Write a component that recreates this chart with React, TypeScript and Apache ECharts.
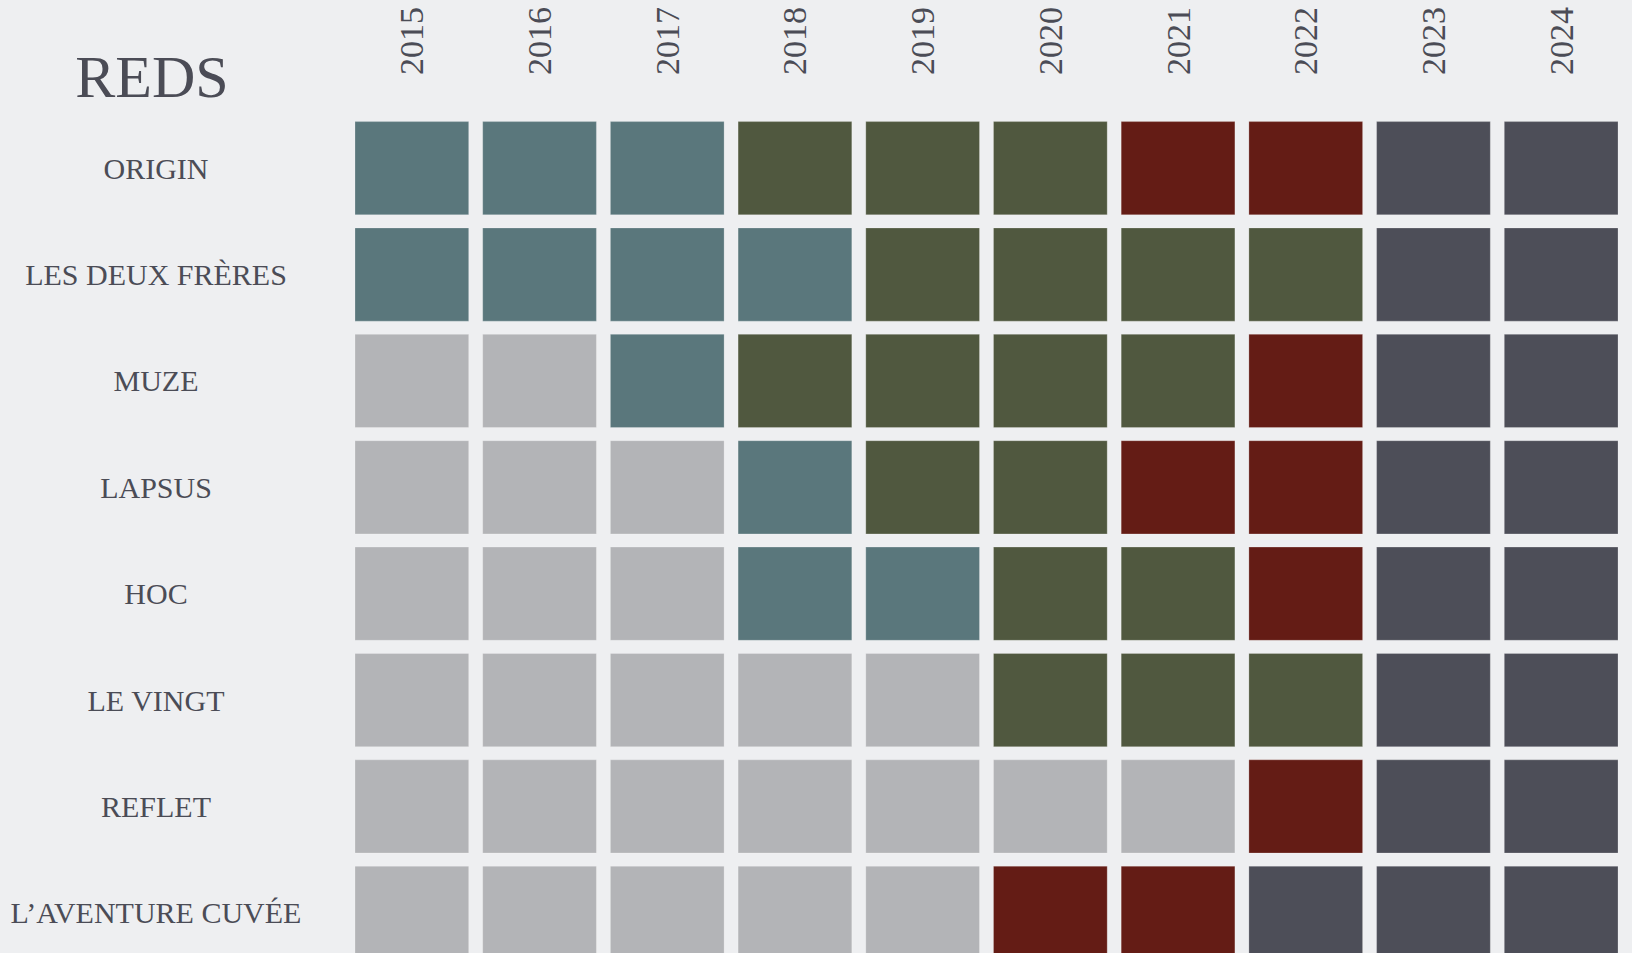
import React, { useEffect, useRef } from "react";
import * as echarts from "echarts";

const TITLE = "REDS";
const YEARS = ["2015", "2016", "2017", "2018", "2019", "2020", "2021", "2022", "2023", "2024"];
const WINES = [
  "ORIGIN",
  "LES DEUX FRÈRES",
  "MUZE",
  "LAPSUS",
  "HOC",
  "LE VINGT",
  "REFLET",
  "L’AVENTURE CUVÉE",
];
// status per wine per year: T = teal, O = olive, R = red, G = grey, D = dark
const ORIGIN = ["T", "T", "T", "O", "O", "O", "R", "R", "D", "D"];
const LES_DEUX_FRERES = ["T", "T", "T", "T", "O", "O", "O", "O", "D", "D"];
const MUZE = ["G", "G", "T", "O", "O", "O", "O", "R", "D", "D"];
const LAPSUS = ["G", "G", "G", "T", "O", "O", "R", "R", "D", "D"];
const HOC = ["G", "G", "G", "T", "T", "O", "O", "R", "D", "D"];
const LE_VINGT = ["G", "G", "G", "G", "G", "O", "O", "O", "D", "D"];
const REFLET = ["G", "G", "G", "G", "G", "G", "G", "R", "D", "D"];
const AVENTURE = ["G", "G", "G", "G", "G", "R", "R", "D", "D", "D"];
const STATUS_ROWS = [ORIGIN, LES_DEUX_FRERES, MUZE, LAPSUS, HOC, LE_VINGT, REFLET, AVENTURE];

const PALETTE: Record<string, string> = {
  T: "#5a777c",
  O: "#50583f",
  R: "#641c15",
  G: "#b3b4b7",
  D: "#4d4e58",
};
const CODES = ["T", "O", "R", "G", "D"];

const BG = "#eeeff1";
const TEXT = "#4b4c56";
const FONT = "'Liberation Serif', 'DejaVu Serif', serif";

export default function App() {
  const ref = useRef<HTMLDivElement>(null);
  useEffect(() => {
    if (!ref.current) return;
    const chart = echarts.init(ref.current, undefined, { renderer: "svg" });
    const data: number[][] = [];
    STATUS_ROWS.forEach((row, yi) => {
      row.forEach((s, xi) => {
        data.push([xi, yi, CODES.indexOf(s)]);
      });
    });
    chart.setOption({
      animation: false,
      backgroundColor: BG,
      graphic: [
        {
          type: "text",
          x: 152,
          y: 77,
          style: {
            text: TITLE,
            font: `60px ${FONT}`,
            fill: TEXT,
            textAlign: "center",
            textVerticalAlign: "middle",
          },
        },
      ],
      grid: {
        left: 348,
        top: 115,
        width: 1277,
        height: 851,
        containLabel: false,
        outerBoundsMode: "none",
      },
      xAxis: {
        type: "category",
        data: YEARS,
        position: "top",
        axisLine: { show: false },
        axisTick: { show: false },
        splitLine: { show: false },
        axisLabel: {
          rotate: -90,
          margin: 40,
          fontSize: 34,
          fontFamily: FONT,
          color: TEXT,
          interval: 0,
        },
      },
      yAxis: {
        type: "category",
        data: WINES,
        inverse: true,
        axisLine: { show: false },
        axisTick: { show: false },
        splitLine: { show: false },
        axisLabel: {
          margin: 192,
          align: "center",
          fontSize: 30,
          fontFamily: FONT,
          color: TEXT,
          interval: 0,
        },
      },
      series: [
        {
          type: "custom",
          data,
          renderItem: (params: any, api: any) => {
            const c = api.coord([api.value(0), api.value(1)]);
            const s = api.size([1, 1]);
            const gx = 14;
            const gy = 13.2;
            const code = CODES[api.value(2)];
            return {
              type: "rect",
              shape: {
                x: c[0] - s[0] / 2 + gx / 2,
                y: c[1] - s[1] / 2 + gy / 2,
                width: s[0] - gx,
                height: s[1] - gy,
              },
              style: {
                fill: PALETTE[code],
                stroke: "rgba(255,255,255,0.22)",
                lineWidth: 1,
              },
            };
          },
        },
      ],
    });
    return () => chart.dispose();
  }, []);
  return (
    <div
      ref={ref}
      style={{ position: "absolute", left: 0, top: 0, width: 1632, height: 953, background: BG }}
    />
  );
}
